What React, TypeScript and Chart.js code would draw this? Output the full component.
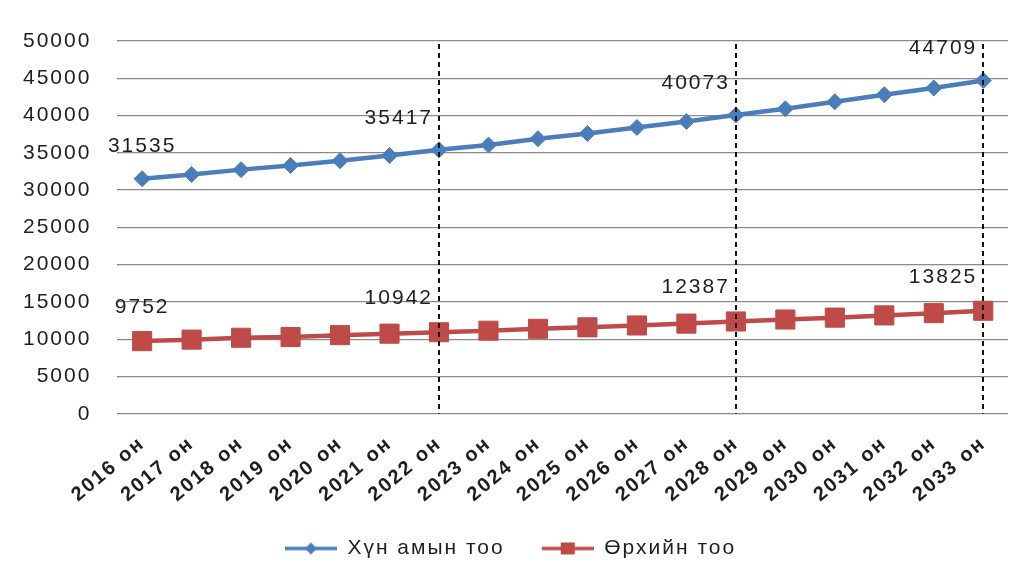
import React, { useEffect, useRef } from 'react';
import { Chart, registerables } from 'chart.js';

Chart.register(...registerables);

const years = [
  '2016 он', '2017 он', '2018 он', '2019 он', '2020 он', '2021 он',
  '2022 он', '2023 он', '2024 он', '2025 он', '2026 он', '2027 он',
  '2028 он', '2029 он', '2030 он', '2031 он', '2032 он', '2033 он',
];
const population = [
  31535, 32100, 32750, 33300, 33950, 34650,
  35417, 36050, 36900, 37600, 38400, 39200,
  40073, 40900, 41850, 42800, 43700, 44709,
];
const households = [
  9752, 9950, 10200, 10300, 10550, 10750,
  10942, 11150, 11400, 11600, 11850, 12100,
  12387, 12650, 12900, 13200, 13500, 13825,
];
const seriesNames = ['Хүн амын тоо', 'Өрхийн тоо'];
const labelledYears = ['2016 он', '2022 он', '2028 он', '2033 он'];
const dashedYears = ['2022 он', '2028 он', '2033 он'];
const yMin = 0;
const yMax = 50000;
const yStep = 5000;

const BLUE = '#4A7EBB';
const RED = '#BE4B48';
const TEXT = '#1e1e1e';
const GRID = '#8a8a8a';
const FONT = "'Liberation Sans', Arial, sans-serif";
const SPACING = '2px';

function makeIcon(color: string, kind: 'diamond' | 'square'): HTMLCanvasElement {
  const c = document.createElement('canvas');
  const lead = 16;
  c.width = 68;
  c.height = 16;
  const g = c.getContext('2d')!;
  g.strokeStyle = color;
  g.lineWidth = 3.5;
  g.beginPath();
  g.moveTo(lead, 8);
  g.lineTo(68, 8);
  g.stroke();
  g.fillStyle = color;
  const cx = lead + 26;
  if (kind === 'diamond') {
    g.beginPath();
    g.moveTo(cx - 6, 8);
    g.lineTo(cx, 2);
    g.lineTo(cx + 6, 8);
    g.lineTo(cx, 14);
    g.closePath();
    g.fill();
  } else {
    g.fillRect(cx - 7, 8 - 6, 14, 12);
  }
  return c;
}

const spacingPlugin = {
  id: 'letterSpacing',
  beforeUpdate(chart: any) { chart.ctx.letterSpacing = SPACING; },
  beforeLayout(chart: any) { chart.ctx.letterSpacing = SPACING; },
  beforeDraw(chart: any) { chart.ctx.letterSpacing = SPACING; },
};

const overlayPlugin = {
  id: 'overlay',
  afterDatasetsDraw(chart: any) {
    const ctx = chart.ctx;
    const xs = chart.scales.x;
    const area = chart.chartArea;
    ctx.save();
    ctx.setLineDash([5, 4]);
    ctx.lineWidth = 2;
    ctx.strokeStyle = '#111';
    dashedYears.forEach((yr) => {
      const px = Math.round(xs.getPixelForValue(years.indexOf(yr)));
      ctx.beginPath();
      ctx.moveTo(px, area.top + 3);
      ctx.lineTo(px, area.bottom);
      ctx.stroke();
    });
    ctx.restore();

    ctx.save();
    ctx.letterSpacing = SPACING;
    ctx.font = `21px ${FONT}`;
    ctx.fillStyle = TEXT;
    ctx.textBaseline = 'middle';
    chart.data.datasets.forEach((ds: any, di: number) => {
      const meta = chart.getDatasetMeta(di);
      labelledYears.forEach((yr) => {
        const idx = years.indexOf(yr);
        const pt = meta.data[idx];
        if (!pt) return;
        const first = idx === 0;
        ctx.textAlign = first ? 'center' : 'right';
        const tx = first ? pt.x : pt.x - 6;
        const ty = pt.y - (di === 0 ? 32 : 34);
        ctx.fillText(String(ds.data[idx]), tx, ty);
      });
    });
    ctx.restore();
  },
};

export default function App() {
  const ref = useRef<HTMLCanvasElement | null>(null);

  useEffect(() => {
    if (!ref.current) return;
    const icons = [makeIcon(BLUE, 'diamond'), makeIcon(RED, 'square')];
    const chart = new Chart(ref.current, {
      type: 'line',
      data: {
        labels: years,
        datasets: [
          {
            label: seriesNames[0],
            data: population,
            borderColor: BLUE,
            backgroundColor: BLUE,
            borderWidth: 4.5,
            pointStyle: 'rectRot',
            pointRadius: 8,
            pointBorderWidth: 1,
            pointBackgroundColor: BLUE,
            pointBorderColor: BLUE,
            tension: 0,
          },
          {
            label: seriesNames[1],
            data: households,
            borderColor: RED,
            backgroundColor: RED,
            borderWidth: 4.5,
            pointStyle: 'rect',
            pointRadius: 13.5,
            pointBorderWidth: 1,
            pointBackgroundColor: RED,
            pointBorderColor: RED,
            tension: 0,
          },
        ],
      },
      options: {
        animation: false,
        responsive: true,
        maintainAspectRatio: false,
        layout: { autoPadding: false, padding: { left: -3, right: 17, top: 41, bottom: 8 } },
        font: { family: FONT },
        scales: {
          x: {
            type: 'category',
            offset: true,
            grid: { display: false },
            border: { display: false },
            ticks: {
              color: TEXT,
              font: { family: FONT, size: 20, weight: 'bold' },
              minRotation: 40,
              maxRotation: 40,
              padding: 10,
              autoSkip: false,
            },
          },
          y: {
            min: yMin,
            max: yMax,
            grid: { color: GRID, lineWidth: 1.3, drawTicks: false },
            border: { display: false },
            ticks: {
              stepSize: yStep,
              color: TEXT,
              font: { family: FONT, size: 21 },
              padding: 26,
              callback: (v: any) => String(v),
            },
          },
        },
        plugins: {
          tooltip: { enabled: false },
          legend: {
            position: 'bottom',
            labels: {
              color: TEXT,
              font: { family: FONT, size: 21 },
              usePointStyle: true,
              pointStyleWidth: 68,
              padding: 21,
              generateLabels: (c: any) => {
                const items = Chart.defaults.plugins.legend.labels.generateLabels(c);
                return items.map((it: any, i: number) => ({ ...it, pointStyle: icons[i] }));
              },
            },
          },
        },
      },
      plugins: [spacingPlugin, overlayPlugin],
    } as any);
    return () => chart.destroy();
  }, []);

  return (
    <div style={{ position: 'fixed', left: 0, top: 0, width: 1025, height: 577, background: '#fff' }}>
      <canvas ref={ref} />
    </div>
  );
}
